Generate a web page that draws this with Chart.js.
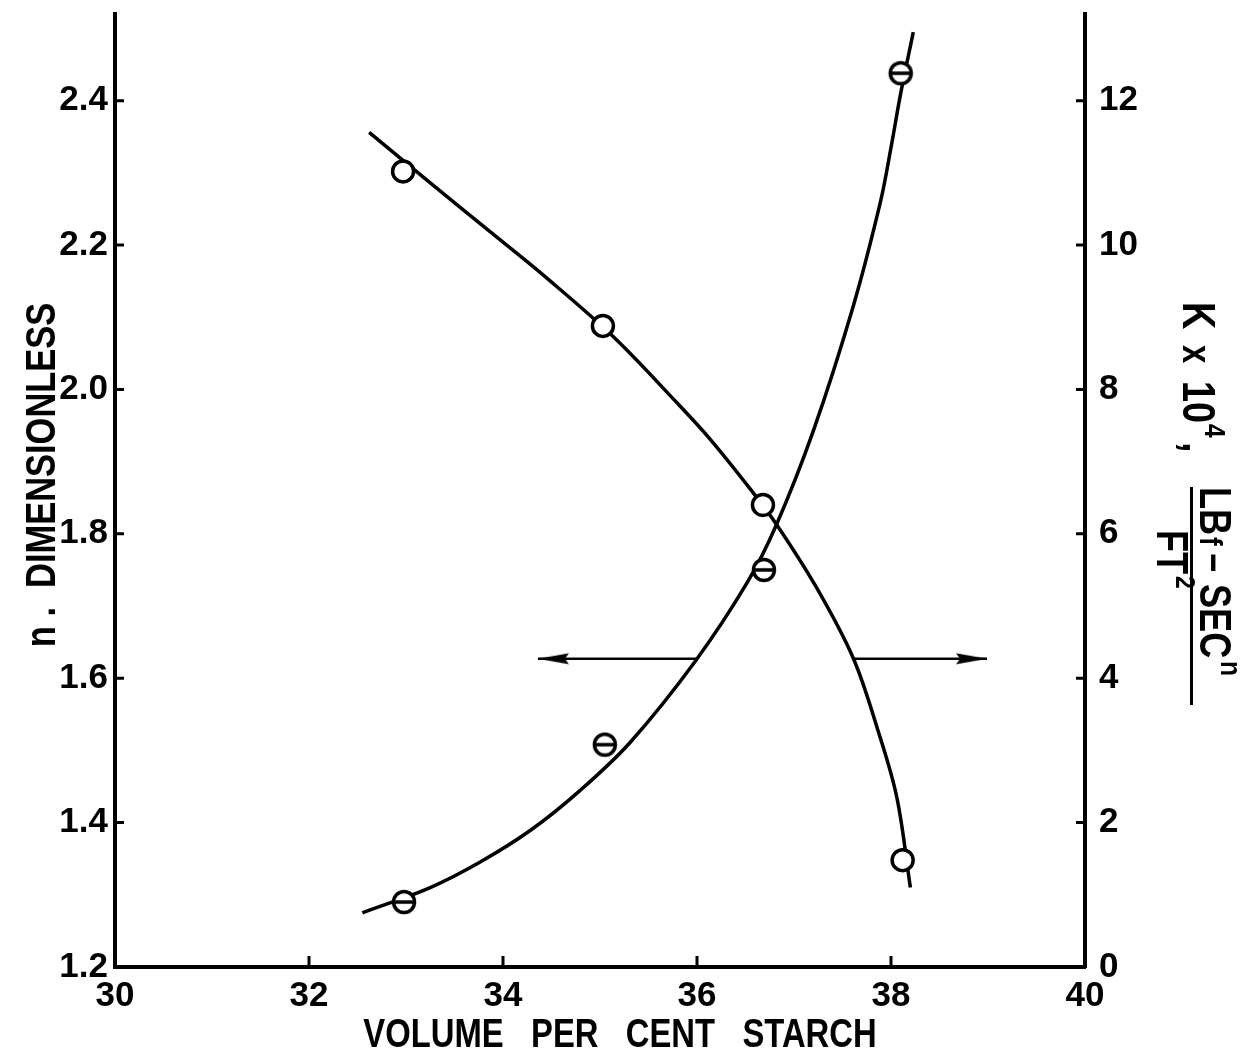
<!DOCTYPE html>
<html>
<head>
<meta charset="utf-8">
<script src="https://cdn.jsdelivr.net/npm/chart.js@4"></script>
<style>
  html, body { margin: 0; padding: 0; background: #fff; }
</style>
</head>
<body>
<canvas id="chart" width="1242" height="1055"></canvas>
<script>
// axis ticks
const xTicks = [30, 32, 34, 36, 38, 40];
const nTicks = [1.2, 1.4, 1.6, 1.8, 2.0, 2.2, 2.4];
const kTicks = [0, 2, 4, 6, 8, 10, 12];

// measured points (open circles = n, barred circles = K)
const nStarch = [32.97, 35.03, 36.68, 38.12];
const nValues = [2.302, 2.088, 1.840, 1.348];
const kStarch = [32.98, 35.05, 36.69, 38.10];
const kValues = [0.90, 3.08, 5.50, 12.38];

// faired curves
const nCurveX = [32.62, 33.25, 34.00, 34.41, 35.13, 35.79, 36.13, 36.55, 36.82, 37.23, 37.61, 37.86, 38.06, 38.20];
const nCurveY = [2.356, 2.286, 2.204, 2.159, 2.074, 1.982, 1.932, 1.862, 1.813, 1.726, 1.628, 1.530, 1.435, 1.310];
const kCurveX = [32.55, 33.25, 33.76, 34.28, 34.79, 35.31, 35.99, 36.52, 36.82, 37.20, 37.61, 37.89, 38.00, 38.10, 38.23];
const kCurveY = [0.75, 1.10, 1.45, 1.89, 2.44, 3.11, 4.25, 5.33, 6.13, 7.43, 9.15, 10.59, 11.35, 12.10, 12.95];

// double arrow (in K units), broken where the curves cross it
const arrowK = 4.27;
const arrowLeftX = [34.36, 36.0];
const arrowRightX = [37.60, 38.99];

const tickFont = { family: "'Liberation Sans', Arial, sans-serif", size: 35, weight: "bold" };
const titleFamily = "'Liberation Sans', Arial, sans-serif";
const squeeze = 0.82; // lettering on the original is narrow

const pairs = (xs, ys) => xs.map((x, i) => ({ x, y: ys[i] }));

// barred circle marker
function barredCircle() {
  const c = document.createElement("canvas");
  c.width = 30; c.height = 30;
  const g = c.getContext("2d");
  g.lineWidth = 3.5;
  g.strokeStyle = "#000";
  g.fillStyle = "#fff";
  g.beginPath(); g.arc(15, 15, 10.5, 0, Math.PI * 2); g.fill(); g.stroke();
  g.beginPath(); g.moveTo(5, 15); g.lineTo(25, 15); g.stroke();
  return c;
}

// arrowhead with its tip at the canvas centre
function arrowHead(dir) {
  const c = document.createElement("canvas");
  c.width = 70; c.height = 14;
  const g = c.getContext("2d");
  g.fillStyle = "#000";
  g.beginPath();
  g.moveTo(35, 7);
  g.lineTo(35 + dir * 31, 1.5);
  g.lineTo(35 + dir * 27, 7);
  g.lineTo(35 + dir * 31, 12.5);
  g.closePath();
  g.fill();
  return c;
}

const inwardTicks = {
  id: "inwardTicks",
  afterDraw(chart) {
    const { ctx, chartArea: a, scales } = chart;
    ctx.save();
    ctx.strokeStyle = "#000";
    ctx.lineWidth = 3;
    ctx.beginPath();
    xTicks.slice(1, -1).forEach((v) => {
      const px = scales.x.getPixelForValue(v);
      ctx.moveTo(px, a.bottom); ctx.lineTo(px, a.bottom - 11);
    });
    nTicks.slice(1).forEach((v) => {
      const py = scales.y.getPixelForValue(v);
      ctx.moveTo(a.left, py); ctx.lineTo(a.left + 9, py);
    });
    kTicks.slice(1).forEach((v) => {
      const py = scales.y2.getPixelForValue(v);
      ctx.moveTo(a.right, py); ctx.lineTo(a.right - 9, py);
    });
    ctx.stroke();
    ctx.restore();
  },
};

// text reading top to bottom, starting at (x baseline, y)
function rotText(ctx, str, x, y, size) {
  ctx.save();
  ctx.font = "bold " + size + "px " + titleFamily;
  ctx.translate(x, y);
  ctx.rotate(Math.PI / 2);
  ctx.scale(squeeze, 1);
  ctx.textAlign = "left";
  ctx.textBaseline = "alphabetic";
  ctx.fillText(str, 0, 0);
  ctx.restore();
}

const axisTitles = {
  id: "axisTitles",
  afterDraw(chart) {
    const { ctx } = chart;
    ctx.save();
    ctx.fillStyle = "#000";

    // bottom
    ctx.save();
    ctx.translate(620, 1036);
    ctx.scale(squeeze, 1);
    ctx.font = "bold 40px " + titleFamily;
    ctx.textAlign = "center";
    ctx.textBaseline = "middle";
    ctx.fillText("VOLUME   PER   CENT   STARCH", 0, 0);
    ctx.restore();

    // left
    ctx.save();
    ctx.translate(43, 475);
    ctx.rotate(-Math.PI / 2);
    ctx.scale(squeeze, 1);
    ctx.font = "bold 42px " + titleFamily;
    ctx.textAlign = "center";
    ctx.textBaseline = "middle";
    ctx.fillText("n .  DIMENSIONLESS", 0, 0);
    ctx.restore();

    // right: K x 10^4, LBf-SEC^n / FT^2
    rotText(ctx, "K", 1183, 302, 46);
    rotText(ctx, "x", 1183, 345, 40);
    rotText(ctx, "10", 1183, 381, 46);
    rotText(ctx, "4", 1205, 424, 30);
    rotText(ctx, ",", 1183, 442, 46);

    rotText(ctx, "LB", 1200, 487, 44);
    rotText(ctx, "f", 1200, 537, 32);
    rotText(ctx, "\u2212", 1200, 553, 40);
    rotText(ctx, "SEC", 1200, 584, 44);
    rotText(ctx, "n", 1221, 661, 30);

    ctx.fillRect(1190, 487, 3, 218);

    rotText(ctx, "FT", 1157, 530, 44);
    rotText(ctx, "2", 1176, 576, 28);

    ctx.restore();
  },
};

const noPadY = (w) => (s) => { s.width = w; s.paddingTop = 0; s.paddingBottom = 0; };

new Chart(document.getElementById("chart"), {
  type: "scatter",
  data: {
    datasets: [
      {
        label: "n points",
        data: pairs(nStarch, nValues),
        yAxisID: "y",
        pointStyle: "circle",
        pointRadius: 10.5,
        borderWidth: 3.5,
        borderColor: "#000",
        backgroundColor: "#fff",
      },
      {
        label: "K points",
        data: pairs(kStarch, kValues),
        yAxisID: "y2",
        pointStyle: barredCircle(),
        pointRadius: 11,
      },
      {
        label: "n curve",
        data: pairs(nCurveX, nCurveY),
        yAxisID: "y",
        showLine: true,
        pointRadius: 0,
        borderColor: "#000",
        borderWidth: 3.5,
        tension: 0.35,
      },
      {
        label: "K curve",
        data: pairs(kCurveX, kCurveY),
        yAxisID: "y2",
        showLine: true,
        pointRadius: 0,
        borderColor: "#000",
        borderWidth: 3.5,
        tension: 0.35,
      },
      {
        label: "arrow left",
        data: arrowLeftX.map((x) => ({ x, y: arrowK })),
        yAxisID: "y2",
        showLine: true,
        borderColor: "#000",
        borderWidth: 2.5,
        pointStyle: [arrowHead(1), false],
        pointRadius: [10, 0],
      },
      {
        label: "arrow right",
        data: arrowRightX.map((x) => ({ x, y: arrowK })),
        yAxisID: "y2",
        showLine: true,
        borderColor: "#000",
        borderWidth: 2.5,
        pointStyle: [false, arrowHead(-1)],
        pointRadius: [0, 10],
      },
    ],
  },
  options: {
    responsive: false,
    animation: false,
    devicePixelRatio: 1,
    layout: { padding: { top: 13, left: 0, right: 0, bottom: 0 } },
    plugins: { legend: { display: false }, tooltip: { enabled: false } },
    scales: {
      x: {
        type: "linear",
        position: "bottom",
        min: 30,
        max: 40,
        afterBuildTicks: (s) => { s.ticks = xTicks.map((v) => ({ value: v })); },
        afterFit: (s) => { s.height = 88; s.paddingLeft = 0; s.paddingRight = 0; },
        grid: { drawOnChartArea: false, drawTicks: false },
        border: { color: "#000", width: 4 },
        ticks: { font: tickFont, color: "#000", padding: 8, maxRotation: 0 },
      },
      y: {
        type: "linear",
        position: "left",
        min: 1.2,
        max: 2.52,
        afterBuildTicks: (s) => { s.ticks = nTicks.map((v) => ({ value: v })); },
        afterFit: noPadY(115),
        grid: { drawOnChartArea: false, drawTicks: false },
        border: { color: "#000", width: 4 },
        ticks: { font: tickFont, color: "#000", padding: 7, callback: (v) => v.toFixed(1) },
      },
      y2: {
        type: "linear",
        position: "right",
        min: 0,
        max: 13.2,
        afterBuildTicks: (s) => { s.ticks = kTicks.map((v) => ({ value: v })); },
        afterFit: noPadY(157),
        grid: { drawOnChartArea: false, drawTicks: false },
        border: { color: "#000", width: 4 },
        ticks: { font: tickFont, color: "#000", padding: 14 },
      },
    },
  },
  plugins: [inwardTicks, axisTitles],
});
</script>
</body>
</html>
